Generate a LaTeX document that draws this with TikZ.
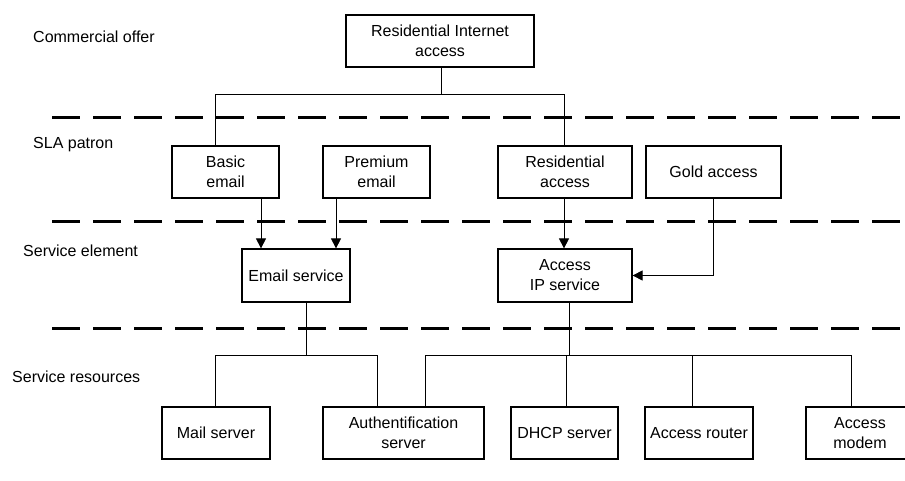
\documentclass[tikz,border=0pt]{standalone}
\usepackage{fontspec}
\setmainfont{Liberation Sans}
\usetikzlibrary{arrows.meta}

\begin{document}
\begin{tikzpicture}[x=1pt, y=-1pt,
   every node/.style={font=\fontsize{16}{20}\selectfont},
   blok/.style={draw=black, line width=1.2pt, align=center, inner sep=0pt, minimum height=52pt},
   layer/.style={anchor=west, inner sep=0pt},
   sep/.style={line width=3pt, dash pattern=on 28pt off 13pt},
   link/.style={line width=0.8pt},
   arr/.style={link, -{Triangle[length=10pt,width=10pt]}}]

   \clip (0,0) rectangle (905,481);
   \fill[white] (0,0) rectangle (905,481);

   % layer names
   \node[layer] (lay1) at (33,37) {Commercial offer};
   \node[layer] (lay2) at (33,145) {SLA patron};
   \node[layer] (lay3) at (23,251) {Service element};
   \node[layer] (lay4) at (12,377) {Service resources};

   \draw[sep] (52,118) -- (905,118);
   \draw[sep] (52,222) -- (905,222);
   \draw[sep] (52,328) -- (905,328);

   \node[blok, minimum width=188pt] (offer) at (440,41) {Residential Internet\\access};

   \node[blok, minimum width=107pt] (basic) at (225.5,172) {Basic\\email};
   \node[blok, minimum width=107pt] (premium) at (376.5,172) {Premium\\email};
   \node[blok, minimum width=134pt] (resacc) at (565,172) {Residential\\access};
   \node[blok, minimum width=135pt] (gold) at (713.5,172) {Gold access};

   \node[blok, minimum width=108pt, minimum height=53pt] (email) at (296,275.5) {Email service};
   \node[blok, minimum width=134pt, minimum height=53pt] (ipserv) at (565,275.5) {Access\\IP service};

   \node[blok, minimum width=108pt] (mail) at (216,433) {Mail server};
   \node[blok, minimum width=161pt] (auth) at (403.5,433) {Authentification\\server};
   \node[blok, minimum width=107pt] (dhcp) at (564.5,433) {DHCP server};
   \node[blok, minimum width=108pt] (router) at (699,433) {Access router};
   \node[blok, minimum width=108pt] (modem) at (860,433) {Access\\modem};

   % offer to patrons
   \coordinate (t0) at (441,94);
   \coordinate (tl) at (215,94);
   \coordinate (tr) at (564,94);
   \draw[link] (offer.south -| t0) -- (t0);
   \draw[link] (basic.north -| tl) -- (tl) -- (tr) -- (resacc.north -| tr);

   % patrons to elements
   \coordinate (c1) at (261,0);
   \coordinate (c2) at (336,0);
   \coordinate (c3) at (564,0);
   \draw[arr] (basic.south -| c1) -- (email.north -| c1);
   \draw[arr] (premium.south -| c2) -- (email.north -| c2);
   \draw[arr] (resacc.south -| c3) -- (ipserv.north -| c3);
   \draw[arr] (gold.south) |- (ipserv.east);

   % elements to resources
   \coordinate (e0) at (306,355);
   \coordinate (el) at (215,355);
   \coordinate (er) at (377,355);
   \draw[link] (email.south -| e0) -- (e0);
   \draw[link] (mail.north -| el) -- (el) -- (er) -- (auth.north -| er);

   \coordinate (i0) at (569,355);
   \coordinate (il) at (425,355);
   \coordinate (ir) at (851,355);
   \coordinate (id) at (566,355);
   \coordinate (ia) at (692,355);
   \draw[link] (ipserv.south -| i0) -- (i0);
   \draw[link] (auth.north -| il) -- (il) -- (ir) -- (modem.north -| ir);
   \draw[link] (dhcp.north -| id) -- (id);
   \draw[link] (router.north -| ia) -- (ia);

\end{tikzpicture}
\end{document}
